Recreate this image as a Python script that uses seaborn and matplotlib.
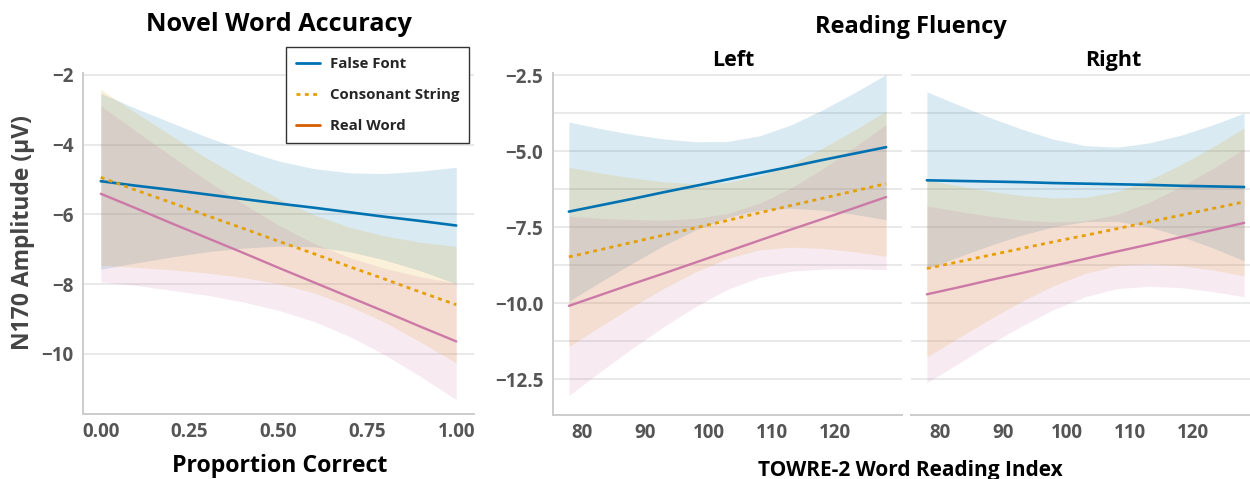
import numpy as np
import pandas as pd
import matplotlib
matplotlib.use("Agg")
import matplotlib.pyplot as plt
from matplotlib.lines import Line2D
import seaborn as sns

# ---------------- data ----------------
conditions = ["False Font", "Consonant String", "Real Word"]

# Novel word accuracy (proportion correct)
acc_x = [0.0, 0.1, 0.2, 0.3, 0.4, 0.5, 0.6, 0.7, 0.8, 0.9, 1.0]
acc_ff_fit = [-5.05, -5.18, -5.30, -5.43, -5.56, -5.69, -5.81, -5.94, -6.07, -6.19, -6.32]
acc_ff_lo = [-7.57, -7.39, -7.22, -7.07, -6.97, -6.91, -6.93, -7.07, -7.31, -7.62, -7.99]
acc_ff_hi = [-2.53, -2.97, -3.38, -3.79, -4.15, -4.47, -4.69, -4.81, -4.83, -4.76, -4.65]
acc_cs_fit = [-4.94, -5.31, -5.67, -6.04, -6.40, -6.77, -7.13, -7.50, -7.86, -8.23, -8.59]
acc_cs_lo = [-7.46, -7.52, -7.59, -7.68, -7.81, -7.99, -8.25, -8.63, -9.10, -9.66, -10.26]
acc_cs_hi = [-2.42, -3.10, -3.75, -4.40, -4.99, -5.55, -6.01, -6.37, -6.62, -6.80, -6.92]
acc_rw_fit = [-5.41, -5.83, -6.26, -6.68, -7.10, -7.53, -7.95, -8.37, -8.79, -9.22, -9.64]
acc_rw_lo = [-7.93, -8.04, -8.18, -8.32, -8.51, -8.75, -9.07, -9.50, -10.03, -10.65, -11.31]
acc_rw_hi = [-2.89, -3.62, -4.34, -5.04, -5.69, -6.31, -6.83, -7.24, -7.55, -7.79, -7.97]

# TOWRE-2 word reading index, left hemisphere
towre_x = [78, 83, 88, 93, 98, 103, 108, 113, 118, 123, 128]
left_ff_fit = [-6.99, -6.78, -6.57, -6.35, -6.14, -5.93, -5.72, -5.51, -5.29, -5.08, -4.87]
left_ff_lo = [-9.94, -9.30, -8.69, -8.10, -7.59, -7.18, -6.94, -6.88, -6.94, -7.08, -7.26]
left_ff_hi = [-4.04, -4.26, -4.45, -4.60, -4.69, -4.68, -4.50, -4.14, -3.64, -3.08, -2.48]
left_cs_fit = [-8.48, -8.24, -8.00, -7.76, -7.52, -7.28, -7.03, -6.79, -6.55, -6.31, -6.07]
left_cs_lo = [-11.43, -10.76, -10.12, -9.51, -8.97, -8.53, -8.25, -8.16, -8.20, -8.31, -8.46]
left_cs_hi = [-5.53, -5.72, -5.88, -6.01, -6.07, -6.03, -5.81, -5.42, -4.90, -4.31, -3.68]
left_rw_fit = [-10.09, -9.73, -9.37, -9.02, -8.66, -8.30, -7.94, -7.58, -7.23, -6.87, -6.51]
left_rw_lo = [-13.04, -12.25, -11.49, -10.77, -10.11, -9.55, -9.16, -8.95, -8.88, -8.87, -8.90]
left_rw_hi = [-7.14, -7.21, -7.25, -7.27, -7.21, -7.05, -6.72, -6.21, -5.58, -4.87, -4.12]

# TOWRE-2 word reading index, right hemisphere
right_ff_fit = [-5.96, -5.98, -6.00, -6.02, -6.05, -6.07, -6.09, -6.11, -6.14, -6.16, -6.18]
right_ff_lo = [-8.87, -8.48, -8.10, -7.76, -7.49, -7.32, -7.31, -7.49, -7.80, -8.18, -8.61]
right_ff_hi = [-3.05, -3.48, -3.90, -4.28, -4.61, -4.82, -4.87, -4.73, -4.48, -4.14, -3.75]
right_cs_fit = [-8.86, -8.64, -8.42, -8.20, -7.98, -7.77, -7.55, -7.33, -7.11, -6.89, -6.67]
right_cs_lo = [-11.77, -11.14, -10.52, -9.94, -9.42, -9.02, -8.77, -8.71, -8.77, -8.91, -9.10]
right_cs_hi = [-5.95, -6.14, -6.32, -6.46, -6.54, -6.52, -6.33, -5.95, -5.45, -4.87, -4.24]
right_rw_fit = [-9.71, -9.48, -9.24, -9.01, -8.77, -8.54, -8.30, -8.07, -7.83, -7.60, -7.36]
right_rw_lo = [-12.62, -11.98, -11.34, -10.75, -10.21, -9.79, -9.52, -9.45, -9.49, -9.62, -9.79]
right_rw_hi = [-6.80, -6.98, -7.14, -7.27, -7.33, -7.29, -7.08, -6.69, -6.17, -5.58, -4.93]

acc_ticks = [0.0, 0.25, 0.5, 0.75, 1.0]
acc_yticks = [-2, -4, -6, -8, -10]
towre_ticks = [80, 90, 100, 110, 120]
towre_yticks = [-2.5, -5.0, -7.5, -10.0, -12.5]
towre_yminor = [-3.75, -6.25, -8.75, -11.25]

# ---------------- style ----------------
sns.set_theme(style="whitegrid")
plt.rcParams["font.family"] = ["Open Sans", "DejaVu Sans"]
plt.rcParams["axes.unicode_minus"] = True

line_colors = {"False Font": "#0072B2", "Consonant String": "#E69F00", "Real Word": "#CC79A7"}
legend_colors = {"False Font": "#0072B2", "Consonant String": "#E69F00", "Real Word": "#D55E00"}
line_styles = {"False Font": "-", "Consonant String": (0, (1.4, 1.6)), "Real Word": "-"}
line_widths = {"False Font": 1.9, "Consonant String": 2.0, "Real Word": 1.7}
band_alpha = 0.15
tick_color = "#555555"
grid_color = "#e3e3e3"
spine_color = "#cccccc"

W, H = 1250, 479
fig = plt.figure(figsize=(W / 100, H / 100), dpi=100)


def px_axes(x0, y0, x1, y1):
    return fig.add_axes([x0 / W, 1 - y1 / H, (x1 - x0) / W, (y1 - y0) / H])


ax_acc = px_axes(83, 73, 474, 414)
ax_left = px_axes(553, 73, 902, 415)
ax_right = px_axes(911, 73, 1250, 415)


def draw_panel(ax, x, series):
    frames = []
    for cond, (fit, lo, hi) in zip(conditions, series):
        ax.fill_between(x, lo, hi, color=line_colors[cond], alpha=band_alpha,
                        linewidth=0, zorder=2)
        frames.append(pd.DataFrame({"x": x, "y": fit, "condition": cond}))
    df = pd.concat(frames, ignore_index=True)
    for cond in conditions:
        sub = df[df["condition"] == cond]
        sns.lineplot(data=sub, x="x", y="y", ax=ax, color=line_colors[cond],
                     linewidth=line_widths[cond], linestyle=line_styles[cond],
                     legend=False, zorder=3)
    ax.set_xlabel("")
    ax.set_ylabel("")


draw_panel(ax_acc, acc_x, [(acc_ff_fit, acc_ff_lo, acc_ff_hi),
                           (acc_cs_fit, acc_cs_lo, acc_cs_hi),
                           (acc_rw_fit, acc_rw_lo, acc_rw_hi)])
draw_panel(ax_left, towre_x, [(left_ff_fit, left_ff_lo, left_ff_hi),
                              (left_cs_fit, left_cs_lo, left_cs_hi),
                              (left_rw_fit, left_rw_lo, left_rw_hi)])
draw_panel(ax_right, towre_x, [(right_ff_fit, right_ff_lo, right_ff_hi),
                               (right_cs_fit, right_cs_lo, right_cs_hi),
                               (right_rw_fit, right_rw_lo, right_rw_hi)])

# axes limits and ticks
ax_acc.set_xlim(-0.05, 1.05)
ax_acc.set_ylim(-11.72, -1.95)
ax_acc.set_xticks(acc_ticks)
ax_acc.set_xticklabels([f"{v:.2f}" for v in acc_ticks])
ax_acc.set_yticks(acc_yticks)
ax_acc.set_yticklabels([f"\u2212{abs(v)}" for v in acc_yticks])

for ax, xr in ((ax_left, (75.5, 130.5)), (ax_right, (75.5, 128.93))):
    ax.set_xlim(*xr)
    ax.set_ylim(-13.68, -2.43)
    ax.set_xticks(towre_ticks)
    ax.set_xticklabels([str(v) for v in towre_ticks])
    ax.set_yticks(towre_yticks)
    ax.set_yticks(towre_yminor, minor=True)
    ax.grid(True, which="minor", axis="y", color=grid_color, linewidth=1.1, zorder=0)
ax_left.set_yticklabels([f"\u2212{abs(v):.1f}" for v in towre_yticks])
ax_right.set_yticklabels([])

for ax in (ax_acc, ax_left, ax_right):
    ax.set_facecolor("white")
    ax.grid(True, which="major", axis="y", color=grid_color, linewidth=1.1, zorder=0)
    ax.grid(False, axis="x")
    ax.set_axisbelow(True)
    for side in ("top", "right"):
        ax.spines[side].set_visible(False)
    for side in ("left", "bottom"):
        ax.spines[side].set_color(spine_color)
        ax.spines[side].set_linewidth(1.4)
    ax.tick_params(axis="both", which="both", length=0, colors=tick_color,
                   labelsize=13.5)
    ax.tick_params(axis="x", pad=6)
    ax.tick_params(axis="y", pad=7)
    for lab in ax.get_xticklabels() + ax.get_yticklabels():
        lab.set_fontweight("bold")
ax_right.spines["left"].set_visible(False)

# legend
handles = [Line2D([0], [0], color=legend_colors[c], linestyle=line_styles[c],
                  linewidth=2.0) for c in conditions]
leg = ax_acc.legend(handles, conditions, loc="upper right",
                    bbox_to_anchor=(469 / W, 1 - 47 / H),
                    bbox_transform=fig.transFigure, borderaxespad=0,
                    frameon=True, fancybox=False,
                    framealpha=1, edgecolor="#333333", handlelength=1.6,
                    handletextpad=0.65, borderpad=0.65, labelspacing=1.15,
                    prop={"weight": "bold", "size": 10.8})
leg.get_frame().set_linewidth(1.0)
leg.set_zorder(10)

# titles and axis labels
fig.text(279 / W, 1 - 31 / H, "Novel Word Accuracy", ha="center", va="baseline",
         fontsize=18.2, fontweight="bold", color="black")
fig.text(911 / W, 1 - 33 / H, "Reading Fluency", ha="center", va="baseline",
         fontsize=17, fontweight="bold", color="black")
fig.text(733 / W, 1 - 66 / H, "Left", ha="center", va="baseline",
         fontsize=15.5, fontweight="bold", color="black")
fig.text(1113 / W, 1 - 66 / H, "Right", ha="center", va="baseline",
         fontsize=15.5, fontweight="bold", color="black")
fig.text(279.5 / W, 1 - 471.7 / H, "Proportion Correct", ha="center", va="baseline",
         fontsize=16.7, fontweight="bold", color="black")
fig.text(910 / W, 1 - 476 / H, "TOWRE-2 Word Reading Index", ha="center", va="baseline",
         fontsize=15, fontweight="bold", color="black")
fig.text(23 / W, 1 - 233 / H, "N170 Amplitude (\u00b5V)", ha="center", va="center",
         rotation=90, fontsize=16.5, fontweight="bold", color="#444444")

fig.savefig("out.png", dpi=100, facecolor="white")
